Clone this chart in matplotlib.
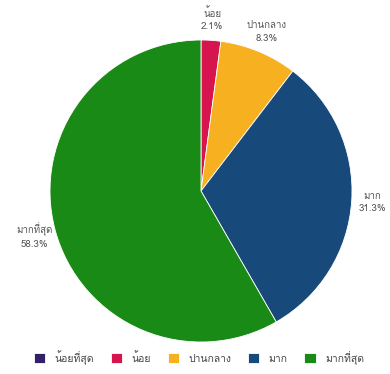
import matplotlib
matplotlib.use('Agg')
import matplotlib.pyplot as plt
from matplotlib import font_manager
from matplotlib.ft2font import FT2Font

# pick an installed font that has Thai glyphs
thai_font = None
for f in font_manager.fontManager.ttflist:
    try:
        if 0x0E01 in FT2Font(f.fname).get_charmap():
            thai_font = f.name
            break
    except Exception:
        pass
fams = [thai_font, 'DejaVu Sans'] if thai_font else ['DejaVu Sans']
plt.rcParams['font.family'] = fams

categories = ['น้อยที่สุด', 'น้อย', 'ปานกลาง', 'มาก', 'มากที่สุด']
values = [0.0, 2.1, 8.3, 31.3, 58.3]
colors = ['#33206b', '#d6154f', '#f7b020', '#17497a', '#198a15']

fig = plt.figure(figsize=(3.9, 3.74), dpi=100)
ax = fig.add_axes([0, 0, 1, 1])

labels = [f'{c}\n{v:.1f}%' if v > 0 else '' for c, v in zip(categories, values)]
wedges, texts = ax.pie(values, colors=colors, startangle=90, counterclock=False,
                       center=(201, 183), radius=151, labels=labels, labeldistance=1.14,
                       wedgeprops=dict(edgecolor='white', linewidth=0.6),
                       textprops=dict(fontsize=7, color='#555555', ha='center'))
for t in texts:
    t.set_horizontalalignment('center')
    t.set_linespacing(1.5)

ax.set_xlim(0, 390)
ax.set_ylim(0, 374)
ax.set_aspect('equal')
ax.axis('off')

ax.legend(wedges, categories, loc='lower center', bbox_to_anchor=(0.51, 0.0), ncol=5,
          frameon=False, fontsize=7.5, handlelength=1.1, handleheight=1.1,
          columnspacing=1.6, handletextpad=0.9, labelcolor='#444444')

fig.savefig('out.png', facecolor='white')
